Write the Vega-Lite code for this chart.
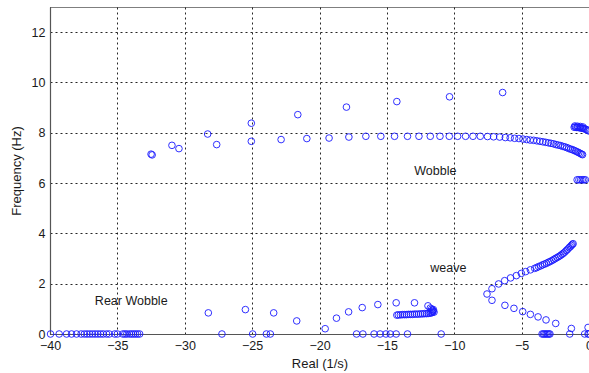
{
  "$schema": "https://vega.github.io/schema/vega-lite/v6.json",
  "width": 539,
  "height": 327,
  "autosize": {"type": "none"},
  "padding": {"left": 50, "top": 7, "right": 0, "bottom": 39},
  "background": "white",
  "view": {"stroke": "#7f7f7f", "strokeWidth": 1},
  "config": {
    "font": "Liberation Sans",
    "axis": {
      "labelFont": "Liberation Sans",
      "titleFont": "Liberation Sans",
      "labelFontSize": 12.5,
      "titleFontSize": 13,
      "titleFontWeight": "normal",
      "labelColor": "#1a1a1a",
      "titleColor": "#1a1a1a",
      "domainColor": "#555555",
      "domainWidth": 1.2,
      "ticks": false,
      "grid": true,
      "gridColor": "#000000",
      "gridDash": [2, 3],
      "gridOpacity": 0.85,
      "gridWidth": 1
    }
  },
  "datasets": {
    "pts": [
      {"x": -32.5, "y": 7.15}, {"x": -32.42, "y": 7.12}, {"x": -30.95, "y": 7.5}, {"x": -30.43, "y": 7.37},
      {"x": -28.3, "y": 7.95}, {"x": -27.63, "y": 7.53}, {"x": -25.06, "y": 8.38}, {"x": -25.06, "y": 7.66},
      {"x": -22.85, "y": 7.73}, {"x": -21.61, "y": 8.72}, {"x": -20.94, "y": 7.77}, {"x": -19.29, "y": 7.79},
      {"x": -18.0, "y": 9.02}, {"x": -17.82, "y": 7.83}, {"x": -16.56, "y": 7.86}, {"x": -15.45, "y": 7.86},
      {"x": -14.43, "y": 7.86}, {"x": -14.26, "y": 9.24}, {"x": -13.47, "y": 7.86}, {"x": -12.62, "y": 7.86},
      {"x": -11.78, "y": 7.86}, {"x": -11.06, "y": 7.86}, {"x": -10.37, "y": 7.86}, {"x": -10.35, "y": 9.43},
      {"x": -9.75, "y": 7.86}, {"x": -9.16, "y": 7.86}, {"x": -8.61, "y": 7.86}, {"x": -8.07, "y": 7.86},
      {"x": -7.53, "y": 7.85}, {"x": -7.08, "y": 7.84}, {"x": -6.63, "y": 7.83}, {"x": -6.41, "y": 9.6},
      {"x": -6.21, "y": 7.81}, {"x": -5.85, "y": 7.8}, {"x": -5.52, "y": 7.78}, {"x": -5.2, "y": 7.77},
      {"x": -4.9, "y": 7.75}, {"x": -4.62, "y": 7.73}, {"x": -4.36, "y": 7.71}, {"x": -4.11, "y": 7.7},
      {"x": -3.87, "y": 7.68}, {"x": -3.64, "y": 7.66}, {"x": -3.42, "y": 7.64}, {"x": -3.21, "y": 7.62},
      {"x": -3.01, "y": 7.6}, {"x": -2.82, "y": 7.58}, {"x": -2.63, "y": 7.56}, {"x": -2.45, "y": 7.53},
      {"x": -2.28, "y": 7.51}, {"x": -2.11, "y": 7.49}, {"x": -1.95, "y": 7.46}, {"x": -1.8, "y": 7.44},
      {"x": -1.65, "y": 7.41}, {"x": -1.51, "y": 7.38}, {"x": -1.37, "y": 7.35}, {"x": -1.24, "y": 7.33},
      {"x": -1.11, "y": 7.3}, {"x": -0.99, "y": 7.27}, {"x": -0.87, "y": 7.24}, {"x": -0.76, "y": 7.21},
      {"x": -0.65, "y": 7.18}, {"x": -0.55, "y": 7.15}, {"x": -0.48, "y": 7.13},
      {"x": -1.1, "y": 8.22}, {"x": -1.0, "y": 8.22}, {"x": -0.9, "y": 8.21}, {"x": -0.8, "y": 8.21},
      {"x": -0.7, "y": 8.2}, {"x": -0.6, "y": 8.19}, {"x": -0.5, "y": 8.18}, {"x": -0.4, "y": 8.17},
      {"x": -0.3, "y": 8.15}, {"x": -0.2, "y": 8.13}, {"x": -0.1, "y": 8.1}, {"x": 0.0, "y": 8.07},
      {"x": -1.05, "y": 8.27}, {"x": -0.85, "y": 8.26}, {"x": -0.65, "y": 8.25}, {"x": -0.45, "y": 8.23},
      {"x": -0.88, "y": 6.13}, {"x": -0.75, "y": 6.13}, {"x": -0.62, "y": 6.13}, {"x": -0.5, "y": 6.13},
      {"x": -0.38, "y": 6.13}, {"x": -0.27, "y": 6.13},
      {"x": -7.57, "y": 1.59}, {"x": -7.2, "y": 1.8}, {"x": -6.71, "y": 1.99}, {"x": -6.26, "y": 2.12},
      {"x": -5.82, "y": 2.23}, {"x": -5.39, "y": 2.32}, {"x": -5.02, "y": 2.41}, {"x": -4.7, "y": 2.48},
      {"x": -4.35, "y": 2.55}, {"x": -4.03, "y": 2.61}, {"x": -3.88, "y": 2.64}, {"x": -3.74, "y": 2.68},
      {"x": -3.58, "y": 2.71}, {"x": -3.44, "y": 2.75}, {"x": -3.3, "y": 2.78}, {"x": -3.16, "y": 2.81},
      {"x": -3.02, "y": 2.85}, {"x": -2.89, "y": 2.88}, {"x": -2.75, "y": 2.92}, {"x": -2.62, "y": 2.96},
      {"x": -2.5, "y": 3.0}, {"x": -2.37, "y": 3.04}, {"x": -2.24, "y": 3.08}, {"x": -2.12, "y": 3.12},
      {"x": -2.0, "y": 3.17}, {"x": -1.9, "y": 3.21}, {"x": -1.79, "y": 3.26}, {"x": -1.68, "y": 3.32},
      {"x": -1.58, "y": 3.37}, {"x": -1.48, "y": 3.43}, {"x": -1.39, "y": 3.47}, {"x": -1.31, "y": 3.52},
      {"x": -1.24, "y": 3.56}, {"x": -1.18, "y": 3.59},
      {"x": -7.2, "y": 1.34}, {"x": -6.24, "y": 1.14}, {"x": -5.57, "y": 1.02}, {"x": -4.92, "y": 0.89},
      {"x": -4.35, "y": 0.78}, {"x": -3.78, "y": 0.68}, {"x": -3.19, "y": 0.56}, {"x": -2.47, "y": 0.42},
      {"x": -1.31, "y": 0.22}, {"x": -0.07, "y": 0.26},
      {"x": -3.48, "y": 0}, {"x": -3.38, "y": 0}, {"x": -3.28, "y": 0}, {"x": -3.18, "y": 0},
      {"x": -3.08, "y": 0}, {"x": -2.98, "y": 0}, {"x": -2.9, "y": 0}, {"x": -1.43, "y": 0},
      {"x": -0.32, "y": 0}, {"x": -0.07, "y": 0}, {"x": 0.0, "y": 0},
      {"x": -28.25, "y": 0.84}, {"x": -25.5, "y": 0.97}, {"x": -23.4, "y": 0.84}, {"x": -21.69, "y": 0.52},
      {"x": -19.58, "y": 0.21}, {"x": -18.74, "y": 0.63}, {"x": -17.84, "y": 0.88}, {"x": -16.83, "y": 1.05},
      {"x": -15.67, "y": 1.17}, {"x": -14.31, "y": 1.24}, {"x": -12.95, "y": 1.24}, {"x": -11.95, "y": 1.12},
      {"x": -11.55, "y": 0.97}, {"x": -11.5, "y": 0.87},
      {"x": -14.26, "y": 0.75}, {"x": -14.15, "y": 0.76}, {"x": -14.0, "y": 0.76}, {"x": -13.85, "y": 0.77},
      {"x": -13.7, "y": 0.77}, {"x": -13.55, "y": 0.77}, {"x": -13.4, "y": 0.78}, {"x": -13.25, "y": 0.78},
      {"x": -13.1, "y": 0.78}, {"x": -12.95, "y": 0.79}, {"x": -12.8, "y": 0.79}, {"x": -12.65, "y": 0.79},
      {"x": -12.5, "y": 0.8}, {"x": -12.35, "y": 0.8}, {"x": -12.2, "y": 0.81}, {"x": -12.05, "y": 0.81},
      {"x": -11.92, "y": 0.82}, {"x": -11.8, "y": 0.83}, {"x": -11.7, "y": 0.84}, {"x": -11.62, "y": 0.86},
      {"x": -11.58, "y": 0.9}, {"x": -11.6, "y": 0.94}, {"x": -11.68, "y": 0.99}, {"x": -11.78, "y": 1.03},
      {"x": -27.24, "y": 0}, {"x": -24.96, "y": 0}, {"x": -23.94, "y": 0}, {"x": -23.65, "y": 0},
      {"x": -17.25, "y": 0}, {"x": -16.78, "y": 0}, {"x": -15.95, "y": 0}, {"x": -15.5, "y": 0},
      {"x": -15.07, "y": 0}, {"x": -14.75, "y": 0}, {"x": -14.31, "y": 0}, {"x": -13.47, "y": 0},
      {"x": -10.97, "y": 0},
      {"x": -39.96, "y": 0}, {"x": -39.32, "y": 0}, {"x": -38.77, "y": 0}, {"x": -38.4, "y": 0},
      {"x": -38.03, "y": 0}, {"x": -37.69, "y": 0}, {"x": -37.45, "y": 0}, {"x": -37.25, "y": 0},
      {"x": -37.05, "y": 0}, {"x": -36.85, "y": 0}, {"x": -36.65, "y": 0}, {"x": -36.45, "y": 0},
      {"x": -36.25, "y": 0}, {"x": -36.05, "y": 0}, {"x": -35.8, "y": 0}, {"x": -35.6, "y": 0},
      {"x": -35.2, "y": 0}, {"x": -35.0, "y": 0}, {"x": -34.6, "y": 0}, {"x": -34.45, "y": 0},
      {"x": -34.3, "y": 0}, {"x": -34.1, "y": 0}, {"x": -33.95, "y": 0}, {"x": -33.8, "y": 0},
      {"x": -33.65, "y": 0}, {"x": -33.5, "y": 0}, {"x": -33.35, "y": 0}
    ],
    "labels": [
      {"x": -36.67, "y": 1.3, "text": "Rear Wobble"},
      {"x": -12.97, "y": 6.48, "text": "Wobble"},
      {"x": -11.78, "y": 2.63, "text": "weave"}
    ]
  },
  "layer": [
    {
      "data": {"name": "pts"},
      "mark": {"type": "point", "shape": "circle", "filled": false, "color": "#1a1aff", "strokeWidth": 1, "size": 44, "opacity": 0.9, "clip": false},
      "encoding": {
        "x": {
          "field": "x", "type": "quantitative",
          "scale": {"domain": [-40, 0], "nice": false, "zero": false},
          "axis": {"title": "Real (1/s)", "values": [-40, -35, -30, -25, -20, -15, -10, -5, 0], "labelPadding": 5, "titlePadding": 6, "labelFlush": false}
        },
        "y": {
          "field": "y", "type": "quantitative",
          "scale": {"domain": [0, 13], "nice": false},
          "axis": {"title": "Frequency (Hz)", "values": [0, 2, 4, 6, 8, 10, 12], "labelPadding": 5, "titlePadding": 8, "labelFlush": false}
        }
      }
    },
    {
      "data": {"name": "labels"},
      "mark": {"type": "text", "align": "left", "baseline": "middle", "fontSize": 12.5, "font": "Liberation Sans", "color": "#1a1a1a"},
      "encoding": {
        "x": {"field": "x", "type": "quantitative"},
        "y": {"field": "y", "type": "quantitative"},
        "text": {"field": "text"}
      }
    }
  ]
}
